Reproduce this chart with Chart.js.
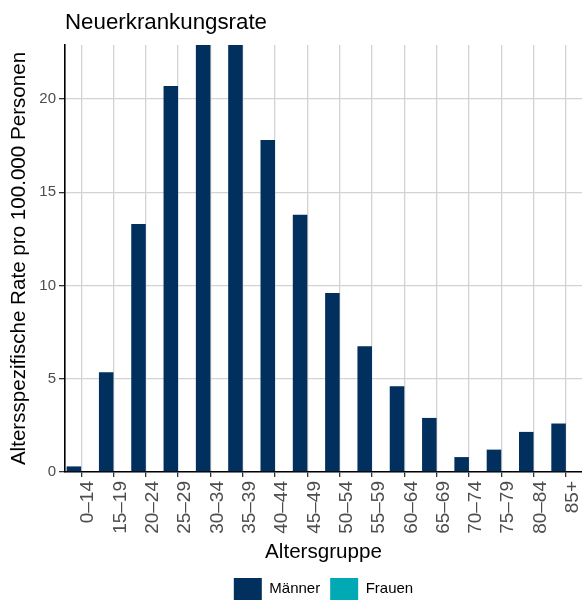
<!DOCTYPE html>
<html>
<head>
<meta charset="utf-8">
<script src="https://cdn.jsdelivr.net/npm/chart.js@4/dist/chart.umd.min.js"></script>
<style>
  html, body { margin: 0; padding: 0; overflow: hidden; background: #fff; }
  #wrap { width: 593px; height: 610px; }
</style>
</head>
<body>
<div id="wrap"><canvas id="c" width="593" height="610"></canvas></div>
<script>
const categories = ["0–14","15–19","20–24","25–29","30–34","35–39","40–44","45–49","50–54","55–59","60–64","65–69","70–74","75–79","80–84","85+"];
const maenner = [0.3, 5.35, 13.3, 20.7, 25.0, 24.8, 17.8, 13.8, 9.6, 6.75, 4.6, 2.9, 0.8, 1.2, 2.15, 2.6];
const frauen = [null, null, null, null, null, null, null, null, null, null, null, null, null, null, null, null];
const seriesNames = ["Männer", "Frauen"];
const yTicks = [0, 5, 10, 15, 20];
const yMax = 22.9;

const FONT = "'Liberation Sans', Arial, Helvetica, sans-serif";

new Chart(document.getElementById('c'), {
  type: 'bar',
  data: {
    labels: categories,
    datasets: [
      { label: seriesNames[0], data: maenner, backgroundColor: '#01305f', borderWidth: 0, categoryPercentage: 0.9, barPercentage: 1.0 },
      { label: seriesNames[1], data: frauen, backgroundColor: '#00a9b4', borderWidth: 0, categoryPercentage: 0.9, barPercentage: 1.0 }
    ]
  },
  options: {
    responsive: false,
    animation: false,
    devicePixelRatio: 1,
    layout: { padding: 0 },
    plugins: {
      tooltip: { enabled: false },
      title: {
        display: true,
        text: 'Neuerkrankungsrate',
        align: 'start',
        fullSize: false,
        color: '#000',
        font: { family: FONT, size: 22.3, weight: 'normal' },
        padding: { top: 9.9, bottom: 8.3 }
      },
      legend: {
        display: true,
        position: 'bottom',
        fullSize: false,
        align: 'center',
        labels: {
          boxWidth: 28,
          boxHeight: 22,
          padding: 10,
          color: '#000',
          font: { family: FONT, size: 15 }
        }
      }
    },
    scales: {
      x: {
        type: 'category',
        offset: true,
        afterFit: (s) => { s.height = 96; },
        grid: { display: true, offset: false, color: '#d3d3d3', lineWidth: 1.3, drawTicks: true, tickLength: 5, tickColor: '#333', tickWidth: 1.3 },
        border: { display: true, color: '#000', width: 1.6 },
        ticks: {
          autoSkip: false,
          minRotation: 90,
          maxRotation: 90,
          padding: 4,
          labelOffset: 7,
          color: '#4d4d4d',
          font: { family: FONT, size: 19 }
        },
        title: {
          display: true,
          text: 'Altersgruppe',
          color: '#000',
          font: { family: FONT, size: 20.6 },
          padding: { top: 0, bottom: 3.6 }
        }
      },
      y: {
        type: 'linear',
        min: 0,
        max: yMax,
        afterFit: (s) => { s.width = 65; },
        afterBuildTicks: (s) => { s.ticks = yTicks.map(v => ({ value: v })); },
        grid: { display: true, color: '#d3d3d3', lineWidth: 1.3, drawTicks: true, tickLength: 6, tickColor: '#333', tickWidth: 1.3 },
        border: { display: true, color: '#000', width: 1.6 },
        ticks: {
          stepSize: 5,
          padding: 3,
          color: '#4d4d4d',
          font: { family: FONT, size: 15 }
        },
        title: {
          display: true,
          text: 'Altersspezifische Rate pro 100.000 Personen',
          color: '#000',
          font: { family: FONT, size: 20.6 },
          padding: { top: 7.3, bottom: 0 }
        }
      }
    }
  }
});
</script>
</body>
</html>
